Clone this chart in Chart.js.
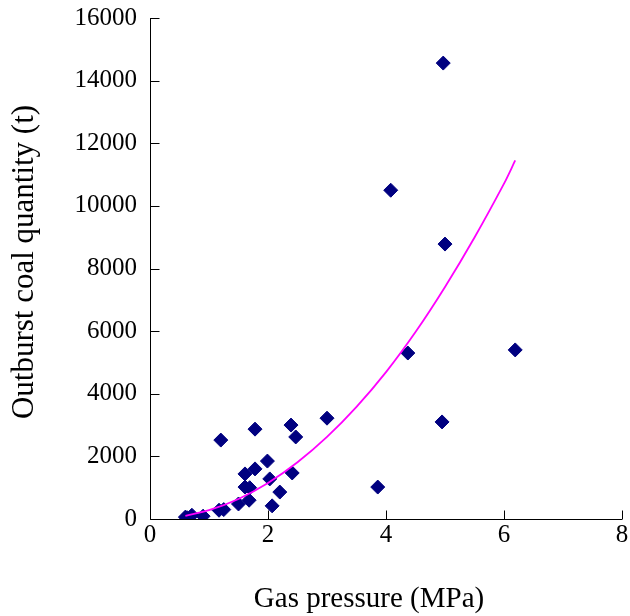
<!DOCTYPE html>
<html>
<head>
<meta charset="utf-8">
<script src="https://cdn.jsdelivr.net/npm/chart.js@4.4.1/dist/chart.umd.min.js"></script>
<style>
  html, body { margin: 0; padding: 0; background: #ffffff; }
  #wrap { width: 630px; height: 616px; }
</style>
</head>
<body>
<div id="wrap"><canvas id="c" width="630" height="616"></canvas></div>
<script>
// Observed data: gas pressure (MPa) vs outburst coal quantity (t)
const pressure = [4.97, 4.08, 5.00, 4.37, 6.19, 4.95, 3.86, 3.00, 2.39, 2.47,
                  1.78, 1.20, 1.99, 1.78, 1.61, 1.61, 1.69, 2.03, 2.41, 2.20,
                  2.07, 1.68, 1.50, 1.25, 1.17, 0.90, 0.71, 0.60, 0.63];
const quantity = [14560, 10500, 8780, 5300, 5400, 3100, 1020, 3220, 3000, 2620,
                  2870, 2520, 1850, 1600, 1440, 1020, 1000, 1280, 1470, 860,
                  420, 600, 480, 300, 280, 90, 120, 60, 40];
// Trend line
const trendX = [0.6, 1.0, 1.5, 2.0, 2.5, 3.0, 3.5, 4.0, 4.5, 5.0, 5.5, 6.0, 6.19];
const trendY = [100, 280, 640, 1150, 1810, 2620, 3580, 4690, 5970, 7410, 8990, 10710, 11450];
const xTicks = [0, 2, 4, 6, 8];
const yTicks = [0, 2000, 4000, 6000, 8000, 10000, 12000, 14000, 16000];
const xTitle = 'Gas pressure (MPa)';
const yTitle = 'Outburst coal quantity (t)';

const FONT = "'Liberation Serif', 'Times New Roman', serif";

const axesDecor = {
  id: 'axesDecor',
  afterDraw(chart) {
    const ctx = chart.ctx;
    const xs = chart.scales.x, ys = chart.scales.y;
    const L = 9;
    ctx.save();
    ctx.strokeStyle = '#000000';
    ctx.lineWidth = 1;
    const ax = Math.round(xs.left) + 0.5;
    const ay = Math.round(ys.bottom) + 0.5;
    ctx.beginPath();
    ctx.moveTo(ax, ys.top);
    ctx.lineTo(ax, ay);
    ctx.lineTo(xs.right, ay);
    ctx.stroke();
    ctx.beginPath();
    xTicks.forEach(v => {
      const px = Math.round(xs.getPixelForValue(v)) + 0.5;
      ctx.moveTo(px, ay);
      ctx.lineTo(px, ay - L);
    });
    yTicks.forEach(v => {
      const py = Math.round(ys.getPixelForValue(v)) + 0.5;
      ctx.moveTo(ax, py);
      ctx.lineTo(ax + L, py);
    });
    ctx.stroke();
    // axis titles
    ctx.fillStyle = '#000';
    ctx.textAlign = 'center';
    ctx.textBaseline = 'middle';
    ctx.font = '29px ' + FONT;
    ctx.fillText(xTitle, 369, 599);
    ctx.translate(25, 262);
    ctx.rotate(-Math.PI / 2);
    ctx.font = '31px ' + FONT;
    ctx.fillText(yTitle, 0, 0);
    ctx.restore();
  }
};

const points = pressure.map((p, i) => ({ x: p, y: quantity[i] }));
const trend = trendX.map((p, i) => ({ x: p, y: trendY[i] }));

new Chart(document.getElementById('c'), {
  type: 'scatter',
  data: {
    datasets: [
      {
        label: 'Outburst',
        data: points,
        pointStyle: 'rectRot',
        pointRadius: 7,
        pointBackgroundColor: '#000080',
        pointBorderColor: '#000080',
        pointBorderWidth: 1,
        showLine: false,
        order: 2
      },
      {
        label: 'Trend',
        data: trend,
        showLine: true,
        borderColor: '#ff00ff',
        borderWidth: 1.8,
        pointRadius: 0,
        tension: 0.3,
        fill: false,
        order: 1
      }
    ]
  },
  options: {
    responsive: false,
    animation: false,
    layout: { padding: { top: 18, right: 8, left: 0, bottom: 0 } },
    plugins: { legend: { display: false }, tooltip: { enabled: false } },
    scales: {
      x: {
        type: 'linear',
        min: 0, max: 8,
        afterBuildTicks(s) { s.ticks = xTicks.map(v => ({ value: v })); },
        afterFit(s) { s.height = 616 - 519; s.paddingLeft = 0; s.paddingRight = 0; },
        grid: { display: false, drawTicks: false },
        border: { display: false },
        ticks: { color: '#000', font: { family: FONT, size: 25 }, padding: 1,
                 callback: v => String(v) },
        title: { display: false }
      },
      y: {
        type: 'linear',
        min: 0, max: 16000,
        afterBuildTicks(s) { s.ticks = yTicks.map(v => ({ value: v })); },
        afterFit(s) { s.width = 150; s.paddingTop = 0; s.paddingBottom = 0; },
        grid: { display: false, drawTicks: false },
        border: { display: false },
        ticks: { color: '#000', font: { family: FONT, size: 25 }, padding: 13,
                 callback: v => String(v) },
        title: { display: false }
      }
    }
  },
  plugins: [axesDecor]
});
</script>
</body>
</html>
